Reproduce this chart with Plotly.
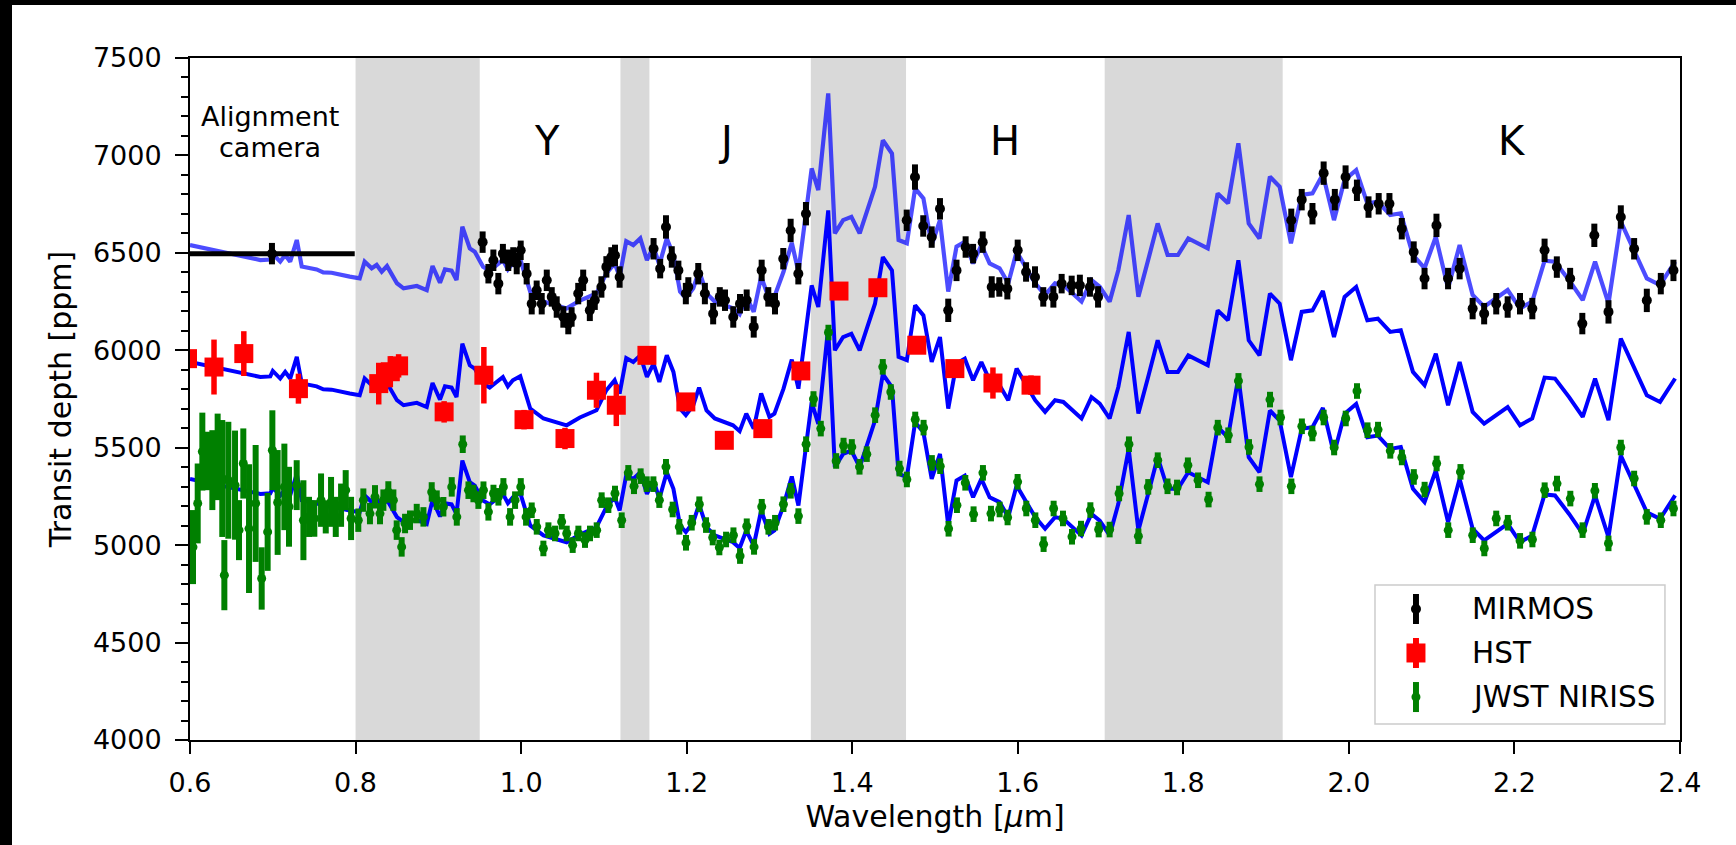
import plotly.graph_objects as go

# ---------------- data ----------------
# best-fit atmospheric model (middle curve); drawn three times with vertical offsets
model_wl = [0.600, 0.648, 0.685, 0.697, 0.700, 0.709, 0.715, 0.721, 0.729, 0.735,
            0.753, 0.761, 0.771, 0.793, 0.805, 0.811, 0.8195, 0.8255, 0.8316, 0.838,
            0.850, 0.858, 0.874, 0.886, 0.893, 0.902, 0.908, 0.916, 0.922, 0.929,
            0.938, 0.944, 0.954, 0.962, 0.970, 0.978, 0.984, 0.990, 0.999, 1.011,
            1.027, 1.055, 1.071, 1.091, 1.103, 1.113, 1.119, 1.127, 1.1355, 1.144,
            1.152, 1.160, 1.167, 1.176, 1.184, 1.192, 1.199, 1.208, 1.215, 1.224,
            1.234, 1.256, 1.264, 1.272, 1.281, 1.290, 1.300, 1.306, 1.317, 1.327,
            1.335, 1.342, 1.351, 1.359, 1.371, 1.379, 1.389, 1.399, 1.409, 1.417,
            1.4275, 1.437, 1.448, 1.456, 1.466, 1.476, 1.486, 1.496, 1.506, 1.516,
            1.526, 1.536, 1.546, 1.556, 1.566, 1.578, 1.5885, 1.5986, 1.611, 1.621,
            1.633, 1.645, 1.655, 1.667, 1.677, 1.689, 1.699, 1.711, 1.7215, 1.734,
            1.7457, 1.7575, 1.769, 1.781, 1.7935, 1.806, 1.817, 1.8295, 1.8415, 1.854,
            1.8665, 1.879, 1.892, 1.9046, 1.9164, 1.930, 1.943, 1.956, 1.9686, 1.982,
            1.9948, 2.0088, 2.0223, 2.035, 2.0499, 2.0627, 2.0774, 2.0914, 2.105, 2.1198,
            2.1338, 2.1495, 2.1634, 2.1918, 2.2067, 2.2215, 2.2364, 2.249, 2.266, 2.2825,
            2.2974, 2.3136, 2.3285, 2.3599, 2.3759, 2.3941]
model_ppm = [5940, 5897, 5863, 5866, 5894, 5855, 5889, 5855, 5966, 5830,
             5815, 5800, 5798, 5778, 5769, 5855, 5821, 5838, 5803, 5832,
             5744, 5718, 5730, 5709, 5832, 5747, 5815, 5809, 5760, 6034,
             5923, 5906, 5829, 5809, 5838, 5863, 5815, 5846, 5867, 5701,
             5650, 5615, 5655, 5692, 5795, 5846, 5778, 5960, 5940, 5974,
             5863, 5932, 5838, 5974, 5889, 5701, 5667, 5718, 5809, 5692,
             5650, 5615, 5585, 5675, 5598, 5778, 5658, 5675, 5803, 5952,
             5803, 6034, 6333, 6222, 6718, 6000, 6068, 6085, 6000, 6103,
             6239, 6478, 6410, 5966, 5949, 6231, 6179, 5940, 6068, 5701,
             5932, 5957, 5846, 5940, 5846, 5821, 5744, 5906, 5821, 5744,
             5684, 5744, 5735, 5692, 5650, 5760, 5726, 5650, 5812, 6094,
             5675, 5863, 6051, 5889, 5889, 5974, 5949, 5923, 6205, 6154,
             6462, 6051, 5974, 6291, 6239, 5949, 6197, 6205, 6304, 6068,
             6274, 6325, 6154, 6162, 6094, 6103, 5889, 5821, 5983, 5718,
             5940, 5684, 5624, 5709, 5615, 5650, 5860, 5855, 5760, 5658,
             5855, 5641, 6060, 5769, 5735, 5855]
offset_mirmos = 600     # model shifted up to the MIRMOS spectrum
offset_niriss = -600    # model shifted down to the NIRISS spectrum

# MIRMOS broadband point from the alignment camera (0.6-0.8 um)
camera_wl = [0.699]
camera_ppm = [6496]
camera_err = [55]
camera_halfwidth = [0.1]

# MIRMOS spectrum
mirmos_wl = [0.9535, 0.9605, 0.9665, 0.9725, 0.978, 0.9845, 0.9905, 0.9947, 0.9995, 1.0067,
             1.0128, 1.0188, 1.0249, 1.031, 1.037, 1.043, 1.051, 1.057, 1.061, 1.069,
             1.075, 1.083, 1.089, 1.097, 1.103, 1.109, 1.1134, 1.119, 1.160, 1.168,
             1.175, 1.182, 1.190, 1.199, 1.202, 1.214, 1.222, 1.232, 1.240, 1.2463,
             1.2563, 1.2644, 1.2725, 1.281, 1.2906, 1.2986, 1.3067, 1.3167, 1.3256, 1.3349,
             1.3441, 1.4658, 1.4758, 1.4858, 1.496, 1.506, 1.516, 1.526, 1.537, 1.546,
             1.5576, 1.5685, 1.5777, 1.5874, 1.5999, 1.610, 1.6208, 1.6308, 1.643, 1.653,
             1.6651, 1.675, 1.6872, 1.697, 1.9304, 1.943, 1.956, 1.9695, 1.983, 1.996,
             2.0097, 2.0237, 2.036, 2.049, 2.0639, 2.0783, 2.0914, 2.1058, 2.1198, 2.1338,
             2.1495, 2.1634, 2.178, 2.1918, 2.2067, 2.2216, 2.2364, 2.2512, 2.2673, 2.282,
             2.2965, 2.3136, 2.3285, 2.3446, 2.3599, 2.3768, 2.3921]
mirmos_ppm = [6555, 6393, 6462, 6342, 6496, 6462, 6479, 6445, 6513, 6393,
              6239, 6308, 6239, 6359, 6274, 6222, 6171, 6137, 6171, 6291,
              6359, 6205, 6257, 6325, 6428, 6479, 6487, 6376, 6521, 6419,
              6633, 6479, 6410, 6291, 6325, 6393, 6291, 6188, 6274, 6257,
              6171, 6239, 6257, 6120, 6410, 6274, 6239, 6470, 6615, 6393,
              6701, 6667, 6889, 6638, 6581, 6726, 6205, 6410, 6530, 6496,
              6555, 6325, 6325, 6316, 6513, 6402, 6376, 6274, 6274, 6342,
              6333, 6333, 6325, 6274, 6667, 6773, 6701, 6909, 6773, 6889,
              6821, 6735, 6752, 6752, 6624, 6504, 6368, 6641, 6368, 6419,
              6214, 6188, 6239, 6222, 6239, 6214, 6513, 6427, 6368, 6137,
              6590, 6197, 6684, 6521, 6256, 6342, 6410]
mirmos_err = [55, 50, 55, 55, 50, 55, 50, 55, 50, 55,
              55, 50, 55, 55, 50, 55, 55, 55, 50, 55,
              55, 55, 50, 55, 55, 50, 55, 55, 55, 50,
              60, 55, 50, 55, 50, 55, 55, 55, 50, 55,
              55, 50, 55, 55, 55, 50, 55, 55, 60, 55,
              60, 55, 65, 55, 55, 55, 60, 55, 55, 50,
              55, 55, 50, 55, 55, 50, 55, 50, 55, 50,
              50, 55, 50, 55, 60, 55, 55, 60, 55, 60,
              55, 55, 55, 55, 55, 55, 55, 60, 55, 55,
              55, 55, 55, 55, 55, 55, 60, 55, 55, 55,
              60, 60, 60, 55, 60, 55, 55]

# HST transmission spectrum
hst_wl = [0.597, 0.629, 0.665, 0.731, 0.828, 0.842, 0.852, 0.907, 0.955, 1.0035,
          1.053, 1.091, 1.115, 1.152, 1.199, 1.2455, 1.292, 1.338, 1.384, 1.431,
          1.478, 1.524, 1.570, 1.616]
hst_ppm = [5957, 5914, 5983, 5803, 5829, 5890, 5920, 5684, 5872, 5644,
           5547, 5795, 5718, 5974, 5735, 5538, 5598, 5894, 6304, 6321,
           6026, 5906, 5832, 5821]
hst_err = [40, 141, 115, 77, 107, 80, 60, 55, 145, 50,
           55, 90, 107, 40, 40, 40, 45, 40, 45, 40,
           40, 40, 80, 50]

# JWST NIRISS spectrum
niriss_wl = [0.6036, 0.6093, 0.6149, 0.6213, 0.627, 0.6334, 0.639, 0.6415, 0.6463, 0.6544,
             0.6592, 0.6644, 0.6713, 0.6793, 0.6866, 0.6938, 0.6995, 0.7059, 0.714, 0.7196,
             0.7289, 0.737, 0.7438, 0.7502, 0.7583, 0.764, 0.7704, 0.7761, 0.7825, 0.7881,
             0.7946, 0.8033, 0.8094, 0.8174, 0.8235, 0.8295, 0.8336, 0.8396, 0.8457, 0.8497,
             0.8557, 0.8598, 0.8658, 0.8739, 0.882, 0.892, 0.8981, 0.9061, 0.9162, 0.9223,
             0.9295, 0.9364, 0.9424, 0.9484, 0.9545, 0.9605, 0.9666, 0.9726, 0.9786, 0.9867,
             0.9927, 0.9996, 1.006, 1.0128, 1.0189, 1.0269, 1.033, 1.041, 1.049, 1.0551,
             1.0623, 1.0692, 1.0772, 1.0832, 1.0913, 1.0973, 1.1054, 1.1134, 1.1215, 1.1295,
             1.1364, 1.1444, 1.1517, 1.1598, 1.167, 1.175, 1.1831, 1.1911, 1.1992, 1.2061,
             1.2153, 1.2234, 1.2315, 1.2395, 1.2476, 1.2565, 1.2645, 1.2726, 1.2814, 1.2907,
             1.2988, 1.3068, 1.3169, 1.3257, 1.335, 1.3443, 1.3532, 1.362, 1.3713, 1.3806,
             1.3895, 1.3995, 1.4088, 1.4176, 1.4277, 1.4369, 1.4466, 1.4571, 1.466, 1.4761,
             1.4862, 1.4962, 1.5063, 1.5164, 1.5265, 1.5366, 1.5466, 1.5579, 1.5676, 1.5781,
             1.5877, 1.5998, 1.6103, 1.6212, 1.6312, 1.6433, 1.6546, 1.6655, 1.6764, 1.6877,
             1.6977, 1.711, 1.7224, 1.7343, 1.7457, 1.7576, 1.7691, 1.7809, 1.7924, 1.8055,
             1.8178, 1.8305, 1.8416, 1.8543, 1.8666, 1.8793, 1.892, 1.9047, 1.9174, 1.9305,
             1.9432, 1.9559, 1.9695, 1.9822, 1.9962, 2.0098, 2.0225, 2.0352, 2.05, 2.064,
             2.0784, 2.0915, 2.106, 2.12, 2.1348, 2.1496, 2.1636, 2.178, 2.192, 2.2068,
             2.2217, 2.2365, 2.2514, 2.2675, 2.2823, 2.2972, 2.3136, 2.3285, 2.3446, 2.3599,
             2.3768, 2.3921]
niriss_ppm = [4990, 5214, 5480, 5432, 5385, 5453, 5342, 4846, 5333, 5308,
              5077, 5419, 5085, 5214, 4829, 5068, 5487, 5219, 5299, 5197,
              5308, 5128, 5145, 5137, 5231, 5145, 5222, 5145, 5205, 5282,
              5137, 5128, 5231, 5162, 5248, 5162, 5231, 5273, 5231, 5077,
              4991, 5111, 5128, 5162, 5145, 5273, 5231, 5197, 5299, 5145,
              5518, 5282, 5265, 5231, 5282, 5171, 5265, 5248, 5299, 5145,
              5231, 5299, 5145, 5179, 5094, 4983, 5077, 5060, 5120, 5060,
              5000, 5060, 5026, 5060, 5077, 5231, 5205, 5265, 5128, 5371,
              5302, 5354, 5313, 5313, 5231, 5402, 5183, 5094, 5012, 5115,
              5210, 5103, 5039, 4988, 5029, 5051, 4944, 5097, 4991, 5197,
              5094, 5115, 5210, 5279, 5149, 5518, 5750, 5598, 6091, 5432,
              5511, 5504, 5402, 5467, 5667, 5915, 5786, 5393, 5337, 5645,
              5603, 5422, 5405, 5084, 5205, 5320, 5159, 5371, 5162, 5183,
              5142, 5325, 5188, 5128, 5005, 5188, 5137, 5043, 5085, 5180,
              5080, 5080, 5265, 5518, 5046, 5299, 5436, 5302, 5296, 5410,
              5333, 5234, 5603, 5564, 5843, 5504, 5313, 5747, 5655, 5302,
              5610, 5573, 5655, 5501, 5650, 5791, 5590, 5593, 5484, 5450,
              5350, 5285, 5419, 5077, 5376, 5051, 4983, 5137, 5115, 5022,
              5029, 5282, 5316, 5239, 5077, 5279, 5009, 5501, 5342, 5145,
              5128, 5188]
niriss_err = [190, 205, 200, 150, 205, 222, 300, 180, 300, 280,
              154, 180, 330, 300, 160, 200, 205, 269, 222, 205,
              128, 205, 103, 94, 137, 85, 128, 103, 111, 103,
              111, 60, 60, 55, 60, 55, 55, 55, 55, 50,
              50, 50, 50, 50, 50, 50, 50, 50, 50, 45,
              45, 45, 45, 45, 45, 45, 45, 45, 45, 45,
              45, 45, 45, 40, 40, 40, 40, 40, 40, 40,
              40, 40, 40, 40, 40, 40, 40, 40, 40, 40,
              40, 40, 40, 40, 40, 40, 40, 40, 40, 40,
              40, 40, 40, 40, 40, 40, 40, 40, 40, 40,
              40, 40, 40, 40, 40, 40, 40, 40, 40, 40,
              40, 40, 40, 40, 40, 40, 40, 40, 40, 40,
              40, 40, 40, 40, 40, 40, 40, 40, 40, 40,
              40, 40, 40, 40, 40, 40, 40, 40, 40, 40,
              40, 40, 40, 40, 40, 40, 40, 40, 40, 40,
              40, 40, 40, 40, 40, 40, 40, 40, 40, 40,
              40, 40, 40, 40, 40, 40, 40, 40, 40, 40,
              40, 40, 40, 40, 40, 40, 40, 40, 40, 40,
              40, 40, 40, 40, 40, 40, 40, 40, 40, 40,
              40, 40]

# telluric gaps between photometric bands
band_lo = [0.80, 1.12, 1.35, 1.705]
band_hi = [0.95, 1.155, 1.465, 1.92]
band_names = ["Y", "J", "H", "K"]
band_label_wl = [1.031, 1.2465, 1.585, 2.197]
band_label_ppm = 7075

x_ticks = [0.6, 0.8, 1.0, 1.2, 1.4, 1.6, 1.8, 2.0, 2.2, 2.4]

FONT = "DejaVu Sans"
BLUE = "#0000ff"

fig = go.Figure()

for lo, hi in zip(band_lo, band_hi):
    fig.add_vrect(x0=lo, x1=hi, fillcolor="#d9d9d9", opacity=1, line_width=0, layer="below")

# model curves
fig.add_trace(go.Scatter(x=model_wl, y=[v + offset_mirmos for v in model_ppm], mode="lines",
                         line=dict(color="rgba(0,0,255,0.7)", width=4.2), hoverinfo="skip"))
fig.add_trace(go.Scatter(x=model_wl, y=model_ppm, mode="lines",
                         line=dict(color=BLUE, width=4), hoverinfo="skip"))
fig.add_trace(go.Scatter(x=model_wl, y=[v + offset_niriss for v in model_ppm], mode="lines",
                         line=dict(color=BLUE, width=4), hoverinfo="skip"))

# data
fig.add_trace(go.Scatter(x=niriss_wl, y=niriss_ppm, mode="markers", name="JWST NIRISS",
                         marker=dict(color="#008000", size=9, symbol="circle"),
                         error_y=dict(type="data", array=niriss_err, color="#008000", thickness=6, width=0)))
fig.add_trace(go.Scatter(x=hst_wl, y=hst_ppm, mode="markers", name="HST",
                         marker=dict(color="#ff0000", size=19, symbol="square"),
                         error_y=dict(type="data", array=hst_err, color="#ff0000", thickness=5.5, width=0)))
fig.add_trace(go.Scatter(x=mirmos_wl, y=mirmos_ppm, mode="markers", name="MIRMOS",
                         marker=dict(color="black", size=10, symbol="circle"),
                         error_y=dict(type="data", array=mirmos_err, color="black", thickness=6, width=0)))
fig.add_trace(go.Scatter(x=camera_wl, y=camera_ppm, mode="markers",
                         marker=dict(color="black", size=10, symbol="circle"),
                         error_y=dict(type="data", array=camera_err, color="black", thickness=6, width=0),
                         error_x=dict(type="data", array=camera_halfwidth, color="black", thickness=5, width=0)))

# annotations
fig.add_annotation(x=0.697, y=7200, text="Alignment", showarrow=False,
                   font=dict(family=FONT, size=27, color="black"))
fig.add_annotation(x=0.697, y=7041, text="camera", showarrow=False,
                   font=dict(family=FONT, size=27, color="black"))
for name, wl in zip(band_names, band_label_wl):
    fig.add_annotation(x=wl, y=band_label_ppm, text=name, showarrow=False,
                       font=dict(family=FONT, size=40, color="black"))

# legend drawn on an overlay axis spanning the plot area (0..1 in both directions)
legend_labels = ["MIRMOS", "HST", "JWST NIRISS"]
legend_colors = ["black", "#ff0000", "#008000"]
legend_symbols = ["circle", "square", "circle"]
legend_sizes = [10, 19, 9]
legend_rows = [0.1921, 0.1276, 0.0630]
legend_sym_x = 0.8228
legend_txt_x = 0.859

fig.add_shape(type="rect", xref="paper", yref="paper", x0=0.7953, x1=0.9899, y0=0.0235, y1=0.2273,
              line=dict(color="#cccccc", width=1.5), fillcolor="rgba(255,255,255,0.8)", layer="below")
for lab, col, sym, sz, row in zip(legend_labels, legend_colors, legend_symbols, legend_sizes, legend_rows):
    fig.add_trace(go.Scatter(x=[legend_sym_x], y=[row], xaxis="x2", yaxis="y2", mode="markers",
                             marker=dict(color=col, size=sz, symbol=sym),
                             error_y=dict(type="constant", value=0.022, color=col, thickness=6, width=0),
                             hoverinfo="skip"))
    fig.add_annotation(xref="paper", yref="paper", x=legend_txt_x, y=row, text=lab, showarrow=False,
                       xanchor="left", yanchor="middle", font=dict(family=FONT, size=29.5, color="black"))

# dark strips along the top and left edges of the page
fig.add_shape(type="rect", xref="paper", yref="paper", x0=-0.2, x1=1.1, y0=1.0777, y1=1.1,
              fillcolor="black", line_width=0, layer="above")
fig.add_shape(type="rect", xref="paper", yref="paper", x0=-0.2, x1=-0.11946, y0=-0.2, y1=1.1,
              fillcolor="black", line_width=0, layer="above")

fig.update_layout(
    width=1736, height=845,
    margin=dict(l=190, r=56, t=58, b=105),
    plot_bgcolor="white", paper_bgcolor="white",
    font=dict(family=FONT, size=27, color="black"),
    showlegend=False,
    xaxis=dict(range=[0.6, 2.4], tickvals=x_ticks, ticktext=[f"{t:.1f}" for t in x_ticks],
               ticks="outside", ticklen=12, tickwidth=2, tickcolor="black",
               showline=True, linewidth=2, linecolor="black", mirror=True,
               showgrid=False, zeroline=False, ticklabelstandoff=6,
               title=dict(text="Wavelength [<i>μ</i>m]", standoff=9,
                          font=dict(family=FONT, size=30, color="black"))),
    yaxis=dict(range=[4000, 7500], tick0=4000, dtick=500,
               ticks="outside", ticklen=13, tickwidth=2, tickcolor="black",
               minor=dict(dtick=100, ticks="outside", ticklen=7, tickwidth=1.5, tickcolor="black"),
               showline=True, linewidth=2, linecolor="black", mirror=True,
               showgrid=False, zeroline=False, ticklabelstandoff=8,
               title=dict(text="Transit depth [ppm]", standoff=12,
                          font=dict(family=FONT, size=30, color="black"))),
    xaxis2=dict(overlaying="x", anchor="y2", range=[0, 1], visible=False, fixedrange=True),
    yaxis2=dict(overlaying="y", anchor="x2", range=[0, 1], visible=False, fixedrange=True),
)

fig.write_html("out.html")
